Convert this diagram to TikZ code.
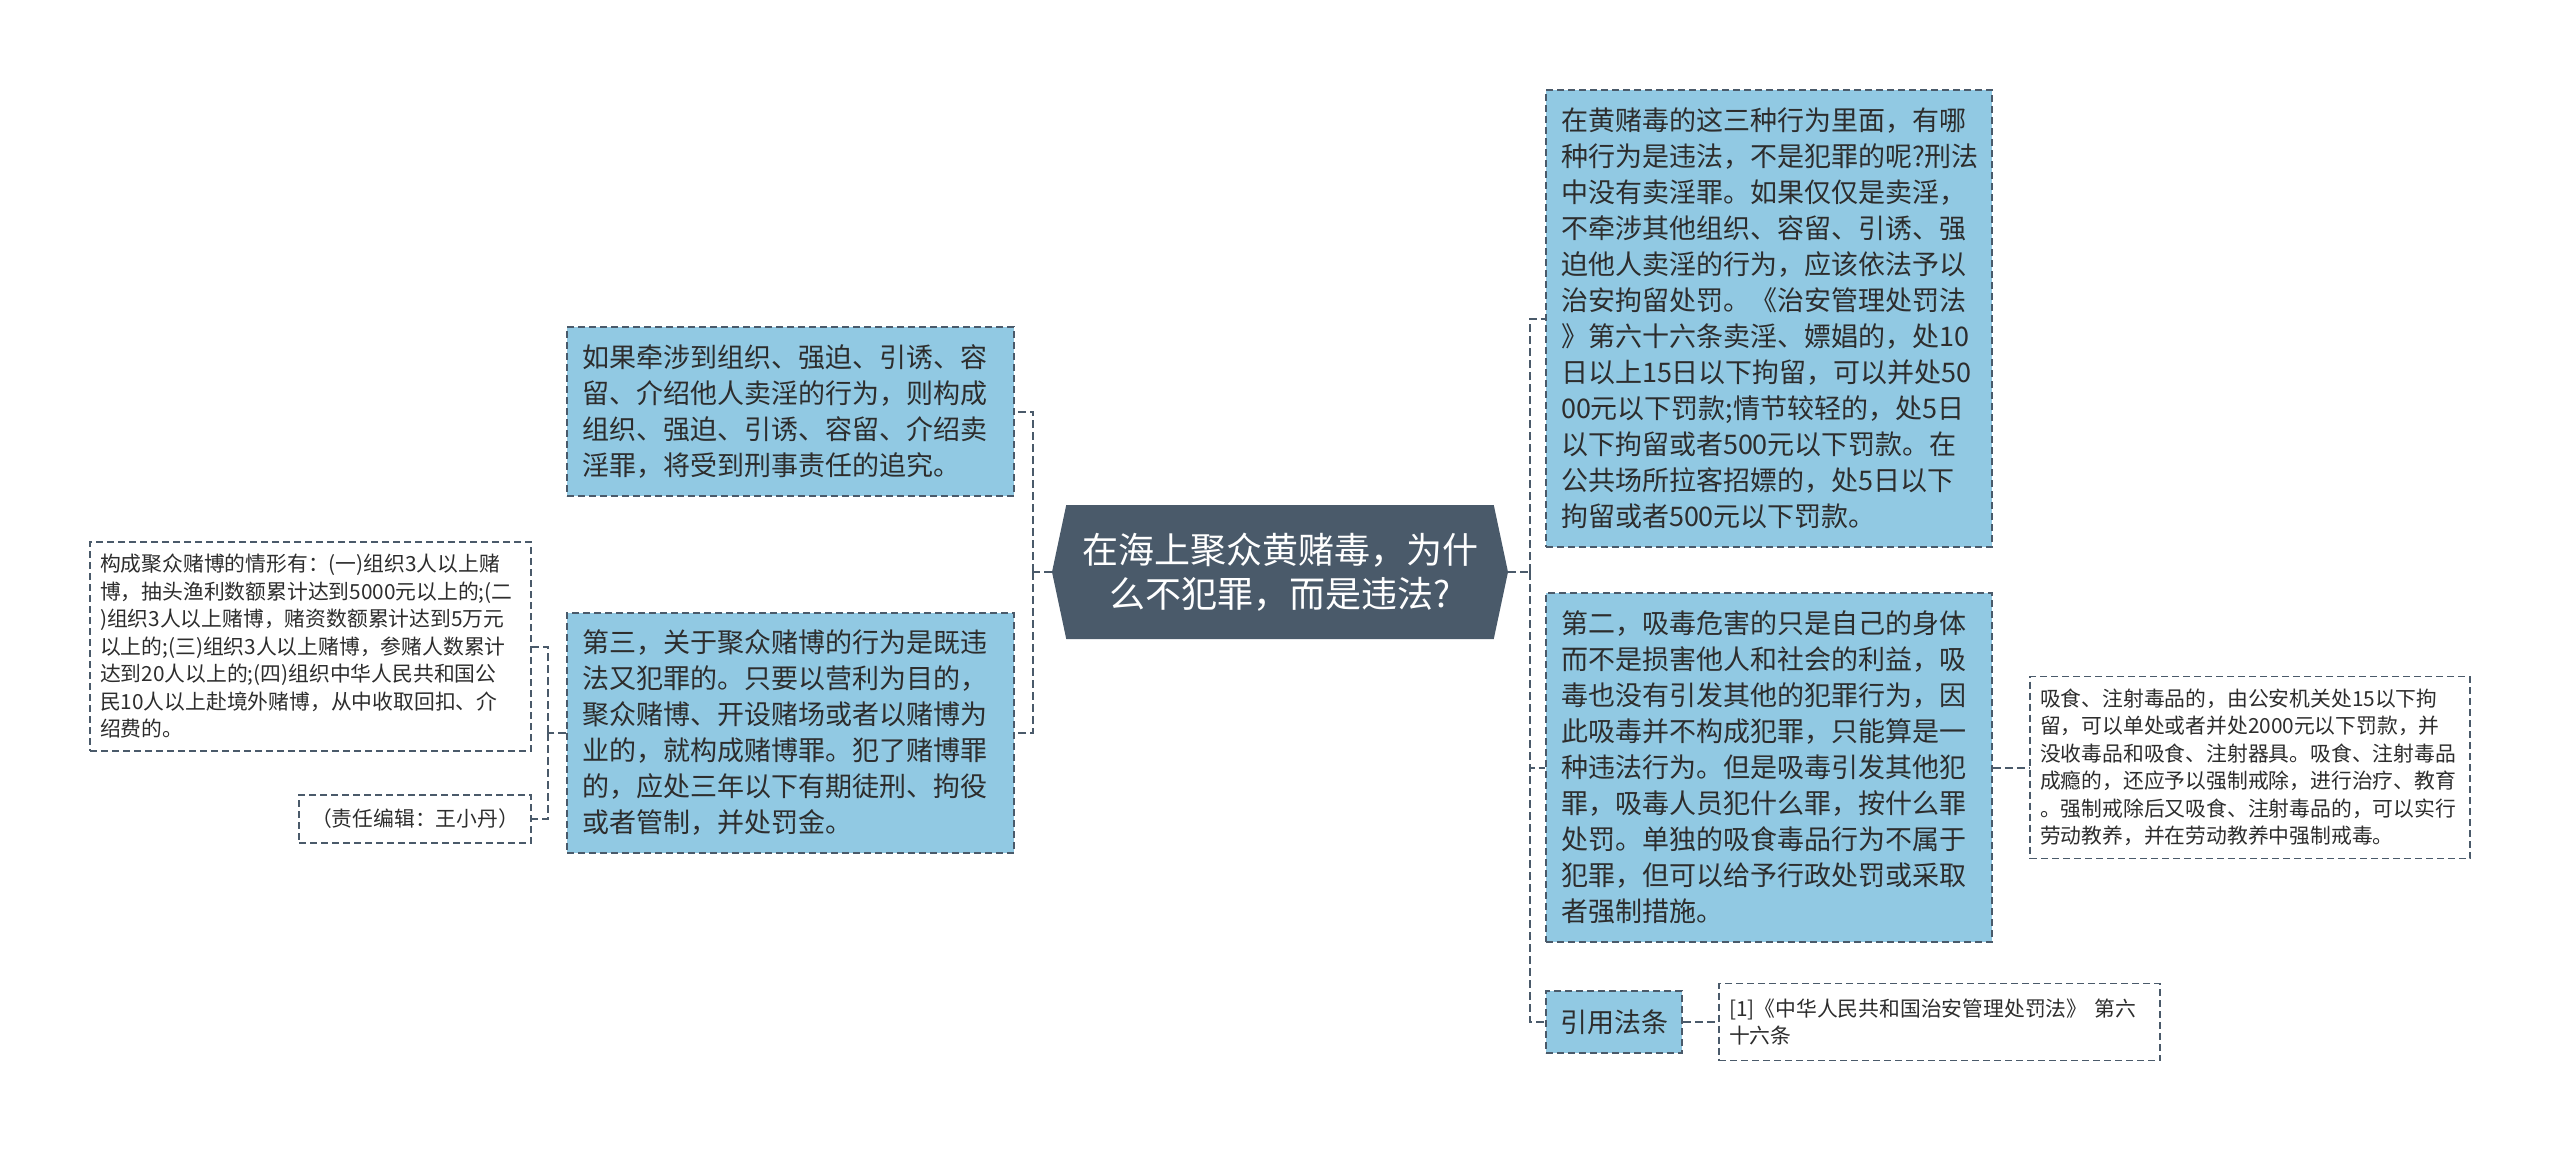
\documentclass[tikz,border=0pt]{standalone}
\usepackage{fontspec}
\setmainfont{Noto Sans CJK SC}
\usetikzlibrary{shapes.symbols}

\definecolor{boxblue}{RGB}{145,201,227}
\definecolor{slate}{RGB}{74,90,106}
\definecolor{ink}{RGB}{45,45,45}

\begin{document}
\begin{tikzpicture}[x=0.5pt,y=-0.5pt,
  topic/.style={signal, signal to=west and east, signal pointer angle=156, fill=slate, text=white,
    minimum width=228pt, minimum height=67pt, inner sep=0pt, align=center,
    font=\fontsize{18}{22}\selectfont},
  bluebox/.style={draw=slate, fill=boxblue, dash pattern=on 3.5pt off 2pt, line width=0.75pt,
    text=ink, align=left, inner xsep=7.5pt, inner ysep=0pt, font=\fontsize{13.5}{18}\selectfont},
  notebox/.style={draw=slate, fill=white, dash pattern=on 3.5pt off 2pt, line width=0.75pt,
    text=ink, align=left, inner xsep=5pt, inner ysep=0pt, font=\fontsize{10.4}{13.75}\selectfont},
  link/.style={draw=slate, line width=1pt, dash pattern=on 4pt off 2pt}]
  \useasboundingbox (0,0) rectangle (2560,1151);

  % Draw the main topic
  \node[topic] (root) at (1280,572) {在海上聚众黄赌毒，为什\\么不犯罪，而是违法?};

  % Draw the left branch
  \node[bluebox, text width=208.5pt, minimum height=84.5pt] (prostitution) at (790.5,411.5)
    {如果牵涉到组织、强迫、引诱、容\\留、介绍他人卖淫的行为，则构成\\组织、强迫、引诱、容留、介绍卖\\淫罪，将受到刑事责任的追究。};
  \node[bluebox, text width=208.5pt, minimum height=120pt] (gambling) at (790.5,733)
    {第三，关于聚众赌博的行为是既违\\法又犯罪的。只要以营利为目的，\\聚众赌博、开设赌场或者以赌博为\\业的，就构成赌博罪。犯了赌博罪\\的，应处三年以下有期徒刑、拘役\\或者管制，并处罚金。};
  \node[notebox, text width=210.5pt, minimum height=104.5pt] (gamblecases) at (310.5,646.5)
    {构成聚众赌博的情形有：(一)组织3人以上赌\\博，抽头渔利数额累计达到5000元以上的;(二\\)组织3人以上赌博，赌资数额累计达到5万元\\以上的;(三)组织3人以上赌博，参赌人数累计\\达到20人以上的;(四)组织中华人民共和国公\\民10人以上赴境外赌博，从中收取回扣、介\\绍费的。};
  \node[notebox, align=center, minimum width=116pt, minimum height=24pt] (editor) at (415,819)
    {（责任编辑：王小丹）};

  % Draw the right branch
  \node[bluebox, text width=208pt, minimum height=228.5pt] (nocrime) at (1769,318.5)
    {在黄赌毒的这三种行为里面，有哪\\种行为是违法，不是犯罪的呢?刑法\\中没有卖淫罪。如果仅仅是卖淫，\\不牵涉其他组织、容留、引诱、强\\迫他人卖淫的行为，应该依法予以\\治安拘留处罚。《治安管理处罚法\\》第六十六条卖淫、嫖娼的，处10\\日以上15日以下拘留，可以并处50\\00元以下罚款;情节较轻的，处5日\\以下拘留或者500元以下罚款。在\\公共场所拉客招嫖的，处5日以下\\拘留或者500元以下罚款。};
  \node[bluebox, text width=208pt, minimum height=174.5pt] (drugs) at (1769,767.5)
    {第二，吸毒危害的只是自己的身体\\而不是损害他人和社会的利益，吸\\毒也没有引发其他的犯罪行为，因\\此吸毒并不构成犯罪，只能算是一\\种违法行为。但是吸毒引发其他犯\\罪，吸毒人员犯什么罪，按什么罪\\处罚。单独的吸食毒品行为不属于\\犯罪，但可以给予行政处罚或采取\\者强制措施。};
  \node[notebox, text width=210pt, minimum height=91pt] (drugrules) at (2250,767.5)
    {吸食、注射毒品的，由公安机关处15以下拘\\留，可以单处或者并处2000元以下罚款，并\\没收毒品和吸食、注射器具。吸食、注射毒品\\成瘾的，还应予以强制戒除，进行治疗、教育\\。强制戒除后又吸食、注射毒品的，可以实行\\劳动教养，并在劳动教养中强制戒毒。};
  \node[bluebox, align=center, inner xsep=0pt, minimum width=68pt, minimum height=31pt] (lawref) at (1614,1022)
    {引用法条};
  \node[notebox, text width=210.5pt, minimum height=38.5pt] (lawtext) at (1939.5,1022)
    {[1]《中华人民共和国治安管理处罚法》 第六\\十六条};

  % Draw the connectors
  \draw[link] (root.west) -- (1033,572) coordinate (lbar);
  \draw[link] (lbar) |- (prostitution.east);
  \draw[link] (lbar) |- (gambling.east);
  \draw[link] (gambling.west) -- (548,733) coordinate (gbar);
  \draw[link] (gbar) |- (gamblecases.east);
  \draw[link] (gbar) |- (editor.east);
  \draw[link] (root.east) -- (1530,572) coordinate (rbar);
  \draw[link] (rbar) |- (nocrime.west);
  \draw[link] (rbar) |- (drugs.west);
  \draw[link] (rbar) |- (lawref.west);
  \draw[link] (drugs.east) -- (drugrules.west);
  \draw[link] (lawref.east) -- (lawtext.west);
\end{tikzpicture}
\end{document}
